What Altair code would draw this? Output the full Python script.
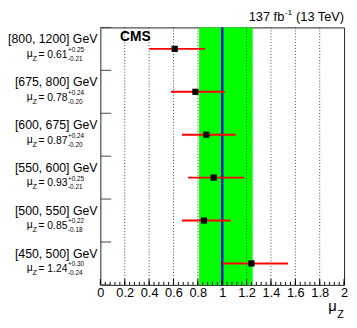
import altair as alt
import pandas as pd

# ---- data ----
bins = ["[800, 1200] GeV", "[675, 800] GeV", "[600, 675] GeV",
        "[550, 600] GeV", "[500, 550] GeV", "[450, 500] GeV"]
mu = [0.61, 0.78, 0.87, 0.93, 0.85, 1.24]
err_up = [0.25, 0.24, 0.24, 0.25, 0.22, 0.30]
err_dn = [0.21, 0.20, 0.20, 0.21, 0.18, 0.24]
row_pos = [5.5, 4.5, 3.5, 2.5, 1.5, 0.5]
band_lo = [0.81]
band_hi = [1.25]
sm_val = [1.0]
grid_vals = [0.2, 0.4, 0.6, 0.8, 1.0, 1.2, 1.4, 1.6, 1.8]
major_ticks = [0.0, 0.2, 0.4, 0.6, 0.8, 1.0, 1.2, 1.4, 1.6, 1.8, 2.0]
minor_ticks = [round(i * 0.04, 2) for i in range(51)]
row_edges = [0, 1, 2, 3, 4, 5, 6]

F = "Liberation Sans, Arial, Helvetica, sans-serif"
W, H = 248, 262

rows = pd.DataFrame({
    "bin": bins,
    "mu": mu,
    "lo": [m - d for m, d in zip(mu, err_dn)],
    "hi": [m + u for m, u in zip(mu, err_up)],
    "row": row_pos,
    "val": [f"= {m:.2f}" for m in mu],
    "up": [f"+{u:.2f}" for u in err_up],
    "dn": [f"-{d:.2f}" for d in err_dn],
})

xs = alt.Scale(domain=[0, 2], nice=False, zero=False)
ys = alt.Scale(domain=[0, 6], nice=False, zero=False)
xaxis = alt.Axis(values=major_ticks, format="~g", ticks=False, domain=False,
                 grid=False, labelFontSize=13, labelFont=F, labelColor="black",
                 labelPadding=2, labelFlush=False, title=None)


def X(field):
    return alt.X(field, scale=xs, axis=xaxis, title=None)


band = alt.Chart(pd.DataFrame({"lo": band_lo, "hi": band_hi})).mark_rect(
    color="#00ff00").encode(x=X("lo:Q"), x2="hi:Q", y=alt.value(0), y2=alt.value(H))

grid = alt.Chart(pd.DataFrame({"g": grid_vals})).mark_rule(
    color="#444", strokeDash=[1, 2], strokeWidth=1).encode(
    x=X("g:Q"), y=alt.value(0), y2=alt.value(H))

smline = alt.Chart(pd.DataFrame({"s": sm_val})).mark_rule(
    color="#1010e0", strokeWidth=2.5).encode(x=X("s:Q"), y=alt.value(0), y2=alt.value(H))

minor = alt.Chart(pd.DataFrame({"t": minor_ticks})).mark_rule(
    color="black", strokeWidth=1).encode(x=X("t:Q"), y=alt.value(H), y2=alt.value(H - 3))

major = alt.Chart(pd.DataFrame({"t": major_ticks})).mark_rule(
    color="black", strokeWidth=1).encode(x=X("t:Q"), y=alt.value(H), y2=alt.value(H - 6))

yticks = alt.Chart(pd.DataFrame({"e": row_edges})).mark_rule(
    color="#444", strokeWidth=1).encode(
    y=alt.Y("e:Q", scale=ys, axis=None), x=alt.value(0), x2=alt.value(11))

base = alt.Chart(rows)
yenc = alt.Y("row:Q", scale=ys, axis=None)
ebars = base.mark_rule(color="#ff0000", strokeWidth=2).encode(
    x=X("lo:Q"), x2="hi:Q", y=yenc)
pts = base.mark_point(shape="square", filled=True, color="black", size=40, opacity=1).encode(
    x=X("mu:Q"), y=yenc)

lab_bin = base.mark_text(align="right", baseline="middle", fontSize=12.5, font=F,
                         dy=-10, color="black").encode(x=alt.value(-3), y=yenc, text="bin:N")
lab_mu = base.mark_text(align="left", baseline="middle", fontSize=10.5, font=F,
                        dy=5, color="black").encode(x=alt.value(-75), y=yenc, text=alt.value("μ"))
lab_z = base.mark_text(align="left", baseline="middle", fontSize=7.5, font=F,
                       dy=10, color="black").encode(x=alt.value(-69), y=yenc, text=alt.value("Z"))
lab_val = base.mark_text(align="left", baseline="middle", fontSize=10.5, font=F,
                         dy=6, color="black").encode(x=alt.value(-63), y=yenc, text="val:N")
lab_up = base.mark_text(align="left", baseline="middle", fontSize=6.5, font=F,
                        dy=1, color="black").encode(x=alt.value(-33), y=yenc, text="up:N")
lab_dn = base.mark_text(align="left", baseline="middle", fontSize=6.5, font=F,
                        dy=10, color="black").encode(x=alt.value(-33), y=yenc, text="dn:N")


def txt(s, x, y, size, align="left", weight="normal"):
    return alt.Chart(pd.DataFrame({"t": [s]})).mark_text(
        align=align, baseline="middle", fontSize=size, font=F, fontWeight=weight,
        color="black").encode(x=alt.value(x), y=alt.value(y), text="t:N")


t1 = txt("137 fb", 151, -11, 13)
t2 = txt("-1", 188, -15, 8)
t3 = txt("(13 TeV)", W, -11, 13, align="right")
cms = txt("CMS", 20, 10, 14, weight="bold")
xt_mu = txt("μ", W - 16, H + 22, 15)
xt_z = txt("Z", W - 7, H + 31, 11)

chart = alt.layer(
    band, grid, smline, minor, major, yticks, ebars, pts,
    lab_bin, lab_mu, lab_z, lab_val, lab_up, lab_dn,
    t1, t2, t3, cms, xt_mu, xt_z
).properties(
    width=W, height=H, autosize="none",
    padding={"left": 94, "top": 17, "right": 5, "bottom": 36},
    background="white"
).configure_view(stroke="#222", strokeWidth=1)

chart.save("out.html", embed_options={"renderer": "svg", "actions": False})
